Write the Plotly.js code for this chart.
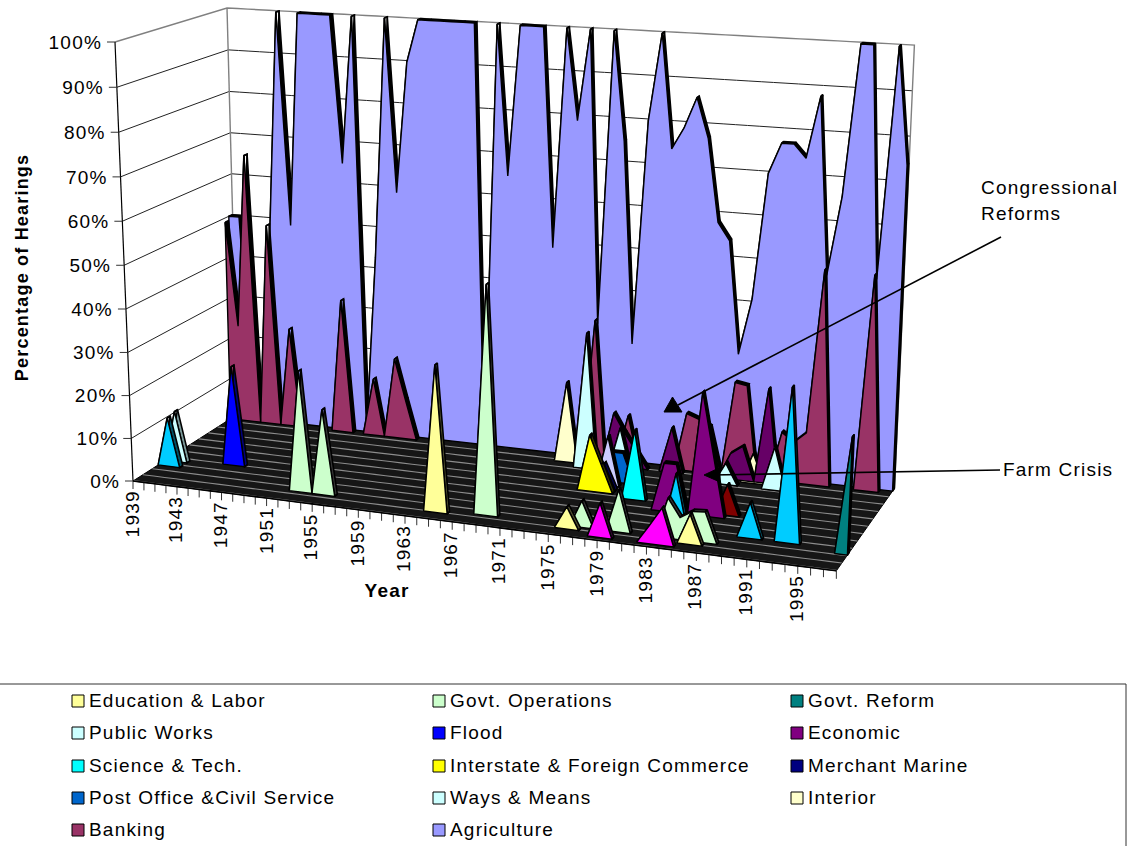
<!DOCTYPE html>
<html>
<head>
<meta charset="utf-8">
<script src="https://cdn.plot.ly/plotly-3.0.0.min.js"></script>
<style>
html,body{margin:0;padding:0;background:#fff;}
#chart{width:1134px;height:846px;}
.js-plotly-plot text{letter-spacing:1.2px;}
</style>
</head>
<body>
<div id="chart"></div>
<script>
// ---------- data: percentage of hearings by year ----------
const firstYear = 1939;
const lastYear = 1998;
const yearLabels = [1939,1943,1947,1951,1955,1959,1963,1967,1971,1975,1979,1983,1987,1991,1995];
const percentTicks = [0,10,20,30,40,50,60,70,80,90,100];

const agriculture = [50,50,0,0,48,100,49,100,100,100,100,65,100,0,43,100,59,90,100,100,100,100,100,100,0,100,65,100,100,100,49,100,79,100,32,100,75,28,80,100,74,79,86,77,58,54,28,41,70,77,77,74,88,48,66,100,100,48,100,74];
const banking = [[1939,49],[1940,23.5],[1941,65.6],[1942,0],[1943,49],[1944,0],[1945,24],[1946,0],[1949,0],[1950,32.3],[1951,0],[1952,0],[1953,13.8],[1954,0],[1955,19.3],[1956,9.5],[1957,0],[1972,0],[1973,33.3],[1974,0],[1975,0],[1976,11.5],[1977,0],[1980,0],[1981,13.5],[1982,12.5],[1983,11],[1984,0],[1985,22],[1986,21.5],[1987,0],[1988,0],[1989,11.5],[1990,9.5],[1991,12],[1992,49.7],[1993,0],[1994,0],[1995,0],[1996,49.5],[1997,0]];
const interior = [[1971,19],[1987,7]];
const plum = [[1975,12.5],[1976,8],[1977,4],[1980,10.5],[1985,6],[1986,8],[1988,22]];
const waysMeans = [[1973,32],[1976,10.5],[1985,5],[1989,10]];
const postOffice = [[1976,7],[1977,7]];
const lavender = [[1976,11.5]];
const merchantMarine = [[1976,6]];
const interstate = [[1975,13],[1976,6.5]];
const science = [[1979,16]];
const darkRed = [[1987,7]];
const economic = [[1982,11],[1983,11],[1985,28],[1986,14]];
const flood = [[1945,23.5]];
const publicWorks = [[1940,12]];
const skyBlue = [[1940,11.5],[1984,12.5],[1990,8],[1993,34.5]];
const govtReform = [[1998,26]];
const govtOperations = [[1953,28],[1955,19.7],[1969,52],[1977,6],[1980,9.5],[1984,9],[1985,5],[1986,6.7],[1987,6.9]];
const education = [[1965,33.5],[1976,5],[1986,6.7]];
const magenta = [[1979,7.7],[1983,4],[1984,8.3]];

const legendLabels = ["Education & Labor","Govt. Operations","Govt. Reform","Public Works","Flood","Economic","Science & Tech.","Interstate & Foreign Commerce","Merchant Marine","Post Office &Civil Service","Ways & Means","Interior","Banking","Agriculture"];
const legendColors = ["#FFFF99","#CCFFCC","#008080","#CCFFFF","#0000FF","#800080","#00FFFF","#FFFF00","#000080","#0066CC","#CCFFFF","#FFFFCC","#993366","#9999FF"];

// ---------- oblique 3-D view of the Excel box (i = year index, s = depth 0..1, v = 0..1) ----------
const N = lastYear - firstYear + 1;
const lerp = (a,b,t) => a + (b-a)*t;
const xFront = i => 133 + 10.93*i + 0.0168*i*i;
const xBack  = i => 238 + 9.86*i + 0.0215*i*i;
const yFront = i => 481 + (xFront(i)-133)*0.1277;
const yBack  = i => 414 + (xBack(i)-238)*0.113;
const xTopBack  = i => 227 + 10.4*i + 0.0212*i*i;
const yTopBack  = i => 8 + (xTopBack(i)-227)*0.0539;
const xTopFront = i => 115 + 1.054*(10.93*i + 0.0168*i*i);
const yTopFront = i => 42 + (xTopFront(i)-115)*0.0754;
const vmap = v => v/(1.035 - 0.035*v);
function P(i,s,v){
  const bx = lerp(xFront(i),xBack(i),s), by = lerp(yFront(i),yBack(i),s);
  const tx = lerp(xTopFront(i),xTopBack(i),s), ty = lerp(yTopFront(i),yTopBack(i),s);
  const m = vmap(v);
  return [lerp(bx,tx,m), lerp(by,ty,m)];
}

const traces = [];
function addPath(pts,opts,name){
  const x=[],y=[];
  pts.forEach(p=>{ if(p===null){x.push(null);y.push(null);} else {x.push(p[0]);y.push(p[1]);} });
  traces.push(Object.assign({type:'scatter',mode:'lines',x,y,name:name||'',showlegend:false,hoverinfo:'skip'},opts));
}
const solid = (c,w) => ({line:{color:c,width:w,simplify:false}});
const filled = (fc,lc,w) => ({fill:'toself',fillcolor:fc,line:{color:lc,width:w,simplify:false}});

// walls
const last = N-1;
addPath([P(0,0,0),P(0,1,0),P(0,1,1),P(0,0,1),P(0,0,0)],filled('#FFFFFF','rgba(0,0,0,0)',0),'side wall');
{
  let back=[]; for(let i=0;i<N;i++) back.push(P(i,1,0));
  for(let i=last;i>=0;i--) back.push(P(i,1,1));
  back.push(P(0,1,0));
  addPath(back,filled('#FFFFFF','rgba(0,0,0,0)',0),'back wall');
}
// gridlines
{
  const g=[];
  percentTicks.forEach(p=>{ if(p===0||p===100) return;
    g.push(P(0,0,p/100),P(0,1,p/100));
    for(let i=0;i<N;i++) g.push(P(i,1,p/100));
    g.push(null);
  });
  addPath(g,solid('#222222',1),'gridlines');
  const top=[P(0,0,1),P(0,1,1)];
  for(let i=0;i<N;i++) top.push(P(i,1,1));
  top.push(P(last,1,0),null,P(0,1,1),P(0,1,0));
  addPath(top,solid('#808080',1.4),'wall edges');
}
// floor
{
  const f=[];
  for(let i=0;i<N;i++) f.push(P(i,0,0));
  for(let i=last;i>=0;i--) f.push(P(i,1,0));
  f.push(P(0,0,0));
  addPath(f,filled('#161616','#000000',1),'floor');
  const st=[];
  for(let k=0;k<=11;k++){
    const s=k/11*0.98+0.005;
    for(let i=0;i<N;i++) st.push(P(i,s,0));
    st.push(null);
  }
  addPath(st,solid('#8c8c8c',1.1),'floor stripes');
}

// series ribbons, back to front
function ribbon(name,values,s,color,shade){
  const d=0.03;
  const polys=[],sides=[];
  values.forEach(run=>{
    polys.push(P(run[0][0],s,0));
    run.forEach(q=>polys.push(P(q[0],s,q[1]/100)));
    polys.push(P(run[run.length-1][0],s,0));
    polys.push(P(run[0][0],s,0));
    polys.push(null);
    for(let j=0;j+1<run.length;j++){
      const a=run[j],b=run[j+1];
      sides.push(P(a[0],s,a[1]/100),P(b[0],s,b[1]/100),P(b[0],s+d,b[1]/100),P(a[0],s+d,a[1]/100),P(a[0],s,a[1]/100),null);
    }
    const e=run[run.length-1];
    sides.push(P(e[0],s,e[1]/100),P(e[0],s+d,e[1]/100),P(e[0],s+d,0),P(e[0],s,0),P(e[0],s,e[1]/100),null);
  });
  addPath(sides,filled(shade,'#000000',1.6),name+' side');
  addPath(polys,filled(color,'#000000',1.4),name);
}
function runsFrom(pairs){
  // points not listed are 0; every run of non-zero points is closed by zeros on both sides
  const vals=new Array(N).fill(0);
  pairs.forEach(p=>{vals[p[0]-firstYear]=p[1];});
  return runsFromArray(vals);
}
function runsFromArray(vals){
  const runs=[]; let cur=null;
  for(let i=0;i<N;i++){
    if(vals[i]>0){
      if(!cur){cur=[]; if(i>0) cur.push([i-1,0]);}
      cur.push([i,vals[i]]);
    } else if(cur){cur.push([i,0]);runs.push(cur);cur=null;}
  }
  if(cur) runs.push(cur);
  return runs;
}
const seriesOrder = [
 ["Agriculture",runsFromArray(agriculture),0.965,"#9999FF","#000000"],
 ["Banking",runsFrom(banking),0.93,"#993366","#000000"],
 ["Interior",runsFrom(interior),0.87,"#FFFFCC","#000000"],
 ["(plum)",runsFrom(plum),0.89,"#660066","#000000"],
 ["Ways & Means",runsFrom(waysMeans),0.82,"#CCFFFF","#000000"],
 ["Post Office &Civil Service",runsFrom(postOffice),0.7,"#0066CC","#000000"],
 ["(lavender)",runsFrom(lavender),0.65,"#CCCCFF","#000000"],
 ["Merchant Marine",runsFrom(merchantMarine),0.6,"#000080","#00004d"],
 ["Interstate & Foreign Commerce",runsFrom(interstate),0.56,"#FFFF00","#333300"],
 ["Science & Tech.",runsFrom(science),0.52,"#00FFFF","#003333"],
 ["(dark red)",runsFrom(darkRed),0.47,"#800000","#000000"],
 ["Economic",runsFrom(economic),0.43,"#800080","#000000"],
 ["Flood",runsFrom(flood),0.35,"#0000FF","#00007a"],
 ["Public Works",runsFrom(publicWorks),0.31,"#CCFFFF","#7a9999"],
 ["(sky blue)",runsFrom(skyBlue),0.24,"#00CCFF","#005266"],
 ["Govt. Reform",runsFrom(govtReform),0.19,"#008080","#000000"],
 ["Govt. Operations",runsFrom(govtOperations),0.125,"#CCFFCC","#333333"],
 ["Education & Labor",runsFrom(education),0.085,"#FFFF99","#4d4d2e"],
 ["(magenta)",runsFrom(magenta),0.035,"#FF00FF","#330033"]
];
seriesOrder.forEach(r=>ribbon(r[0],r[1],r[2],r[3],r[4]));

// axis lines and ticks
{
  const a=[P(0,0,0),P(0,0,1)];
  addPath(a,solid('#000000',1.2),'value axis');
  const t=[];
  percentTicks.forEach(p=>{const q=P(0,0,p/100); t.push([q[0]-8,q[1]],q,null);});
  for(let i=0;i<N;i++){const q=P(i,0,0); t.push(q,[q[0],q[1]+8],null);}
  addPath(t,solid('#333333',1),'ticks');
  const e=[]; for(let i=0;i<N;i++) e.push(P(i,0,0));
  addPath(e,solid('#000000',1.6),'year axis');
}

// legend swatches
const legendX=[78,439,797], legendTextX=[89,450,808], legendY=[700,732,765,797,829];
traces.push({type:'scatter',mode:'markers',showlegend:false,hoverinfo:'skip',name:'legend swatches',
  x:legendLabels.map((_,k)=>legendX[k%3]),
  y:legendLabels.map((_,k)=>legendY[Math.floor(k/3)]+1),
  marker:{symbol:'square',size:12,color:legendColors,line:{color:'#000000',width:1}}});

// text
const FAMILY='Liberation Sans, Arial, sans-serif';
const font=(size,bold)=>({family:FAMILY,size:size,color:'#000000',weight:bold?700:400});
const textDrop=2;
function textTrace(name,xs,ys,texts,pos){
  traces.push({type:'scatter',mode:'text',name:name,showlegend:false,hoverinfo:'skip',x:xs,y:ys.map(v=>v+textDrop),text:texts,
    textposition:pos,textfont:{family:FAMILY,size:19,color:'#000000'}});
}
textTrace('legend labels',
  legendLabels.map((_,k)=>legendTextX[k%3]),
  legendLabels.map((_,k)=>legendY[Math.floor(k/3)]),
  legendLabels,'middle right');
textTrace('value labels',
  percentTicks.map(p=>P(0,0,p/100)[0]-13),
  percentTicks.map(p=>P(0,0,p/100)[1]),
  percentTicks.map(p=>p+'%'),'middle left');
textTrace('callouts',[981,981,1003],[187,213,469],['Congressional','Reforms','Farm Crisis'],'middle right');

const ann=[];
yearLabels.forEach(yr=>{const q=P(yr-firstYear,0,0);
  ann.push({x:q[0]-1,y:q[1]+10,text:String(yr),showarrow:false,textangle:-90,xanchor:'center',yanchor:'top',font:font(19)});});
ann.push({x:22,y:268,text:'Percentage of Hearings',showarrow:false,textangle:-90,xanchor:'center',yanchor:'middle',font:font(18,true)});
ann.push({x:387,y:590,text:'Year',showarrow:false,xanchor:'center',yanchor:'middle',font:font(19,true)});
ann.forEach(a=>{a.xref='x';a.yref='y';});

const shapes=[
 {type:'rect',xref:'x',yref:'y',x0:-3,x1:1126,y0:684,y1:870,line:{color:'#333333',width:1},fillcolor:'rgba(0,0,0,0)'},
 {type:'line',xref:'x',yref:'y',x0:1001,y0:237,x1:678,y1:405,line:{color:'#000000',width:1.6}},
 {type:'path',xref:'x',yref:'y',path:'M672.5 397 L682 412 L664 412 Z',fillcolor:'#000000',line:{color:'#000000',width:1}},
 {type:'line',xref:'x',yref:'y',x0:1000,y0:470,x1:712,y1:475,line:{color:'#000000',width:1.6}},
 {type:'path',xref:'x',yref:'y',path:'M704 475 L720 467.5 L720 482 Z',fillcolor:'#000000',line:{color:'#000000',width:1}}
];

Plotly.newPlot('chart',traces,{
  width:1134,height:846,
  margin:{l:0,r:0,t:0,b:0},
  paper_bgcolor:'#FFFFFF',plot_bgcolor:'#FFFFFF',
  showlegend:false,
  xaxis:{range:[0,1134],visible:false,fixedrange:true},
  yaxis:{range:[846,0],visible:false,fixedrange:true},
  annotations:ann,
  shapes:shapes
},{displayModeBar:false,staticPlot:true});
</script>
</body>
</html>
